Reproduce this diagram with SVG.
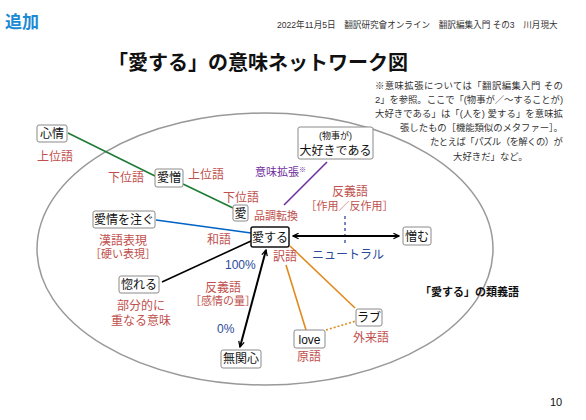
<svg xmlns="http://www.w3.org/2000/svg" width="586" height="420" viewBox="0 0 586 420">
<defs>
<style>
text{font-family:"Liberation Sans","Noto Sans CJK JP",sans-serif}
.box{fill:#fff;stroke:#8a8a8a;stroke-width:1}
.nt{font-size:12px;fill:#111;text-anchor:middle}
.lb{font-size:12px;fill:#c0504d}
.lbs{font-size:11px;fill:#c0504d}
.bl{font-size:12px;fill:#2b4a9a}
.note{font-size:9.4px;fill:#333}
</style>
<marker id="ah" viewBox="0 0 10 10" refX="9" refY="5" markerWidth="7" markerHeight="7" orient="auto-start-reverse" markerUnits="userSpaceOnUse">
<path d="M1,1 L9,5 L1,9" fill="none" stroke="#000" stroke-width="1.8"/>
</marker>
</defs>
<rect width="586" height="420" fill="#fff"/>
<text x="5" y="28" font-size="17" font-weight="bold" fill="#1a8ad4">追加</text>
<text x="277" y="28" font-size="8.6" fill="#333">2022年11月5日　翻訳研究會オンライン　翻訳編集入門 その3　川月現大</text>
<text x="258" y="70" font-size="20" font-weight="bold" fill="#111" text-anchor="middle">「愛する」の意味ネットワーク図</text>
<g id="note">
<text class="note" x="375" y="89" textLength="188" lengthAdjust="spacing">※意味拡張については「翻訳編集入門 その</text>
<text class="note" x="375" y="103" textLength="188" lengthAdjust="spacing">2」を参照。ここで「(物事が／〜することが)</text>
<text class="note" x="375" y="117" textLength="188" lengthAdjust="spacing">大好きである」は「(人を) 愛する」を意味拡</text>
<text class="note" x="400" y="131" textLength="163" lengthAdjust="spacing">張したもの［機能類似のメタファー］。</text>
<text class="note" x="430" y="145" textLength="133" lengthAdjust="spacing">たとえば「パズル（を解くの）が</text>
<text class="note" x="453" y="160">大好きだ」など。</text>
</g>
<ellipse cx="265" cy="249" rx="228" ry="136" fill="none" stroke="#999" stroke-width="1.5"/>
<g id="connectors" fill="none">
<line x1="68" y1="133" x2="155" y2="176" stroke="#1e7b34" stroke-width="1.6"/>
<line x1="183" y1="184" x2="233" y2="208" stroke="#1e7b34" stroke-width="1.6"/>
<line x1="327" y1="162" x2="284" y2="205" stroke="#7030a0" stroke-width="1.6"/>
<line x1="156" y1="220" x2="251" y2="233" stroke="#0062c4" stroke-width="1.6"/>
<line x1="162" y1="282" x2="251" y2="241" stroke="#000" stroke-width="1.6"/>
<line x1="345" y1="216" x2="345" y2="246" stroke="#2b4a9a" stroke-width="1.3" stroke-dasharray="3,3"/>
<line x1="293" y1="236" x2="399" y2="236" stroke="#000" stroke-width="2" marker-start="url(#ah)" marker-end="url(#ah)"/>
<line x1="266" y1="250" x2="240" y2="347" stroke="#000" stroke-width="2" marker-start="url(#ah)" marker-end="url(#ah)"/>
<line x1="286" y1="265" x2="306" y2="330" stroke="#e08a1e" stroke-width="1.6"/>
<line x1="290" y1="246" x2="355" y2="308" stroke="#e08a1e" stroke-width="1.6"/>
<line x1="326" y1="330" x2="356" y2="321" stroke="#e08a1e" stroke-width="1.6" stroke-dasharray="2,2"/>
</g>
<g id="n-shinjo"><rect class="box" x="37" y="125" width="30" height="17" rx="2"/><text class="nt" x="52" y="138">心情</text></g>
<text class="lb" x="37" y="161">上位語</text>
<g id="n-aizo"><rect class="box" x="155" y="169" width="28" height="18" rx="2"/><text class="nt" x="169" y="182">愛憎</text></g>
<text class="lb" x="108" y="182">下位語</text>
<text class="lb" x="188" y="179">上位語</text>
<text class="lb" x="223" y="202">下位語</text>
<g id="n-ai"><rect class="box" x="233" y="205" width="15" height="16" rx="2"/><text class="nt" x="240.5" y="217.5">愛</text></g>
<text class="lbs" x="254" y="220">品調転換</text>
<g id="n-daisuki"><rect class="box" x="298" y="127" width="75" height="32" rx="2"/><text x="335.5" y="138.5" font-size="9" fill="#111" text-anchor="middle">(物事が)</text><text class="nt" x="335.5" y="155">大好きである</text></g>
<text x="255" y="176" font-size="11" fill="#7030a0">意味拡張<tspan font-size="7" dy="-4">※</tspan></text>
<g id="n-aisuru"><rect x="251" y="227" width="38" height="20" rx="2" fill="#fff" stroke="#111" stroke-width="1.5"/><text class="nt" x="270" y="241.5">愛する</text></g>
<text class="lb" x="207" y="244">和語</text>
<text class="lb" x="350" y="196" text-anchor="middle">反義語<tspan class="lbs" x="349.5" dy="14">［作用／反作用］</tspan></text>
<text class="bl" x="312" y="259">ニュートラル</text>
<g id="n-nikumu"><rect class="box" x="403" y="227" width="28" height="18" rx="2"/><text class="nt" x="417" y="240.5">憎む</text></g>
<text x="420" y="296" font-size="11" font-weight="bold" fill="#111">「愛する」の類義語</text>
<g id="n-aijo"><rect class="box" x="93" y="211" width="62" height="17" rx="2"/><text class="nt" x="124" y="224">愛情を注ぐ</text></g>
<text class="lb" x="123" y="245" text-anchor="middle">漢語表現<tspan class="lbs" x="123" dy="13">［硬い表現］</tspan></text>
<g id="n-horeru"><rect class="box" x="119" y="276" width="40" height="17" rx="2"/><text class="nt" x="139" y="289">惚れる</text></g>
<text class="lb" x="141" y="310" text-anchor="middle">部分的に<tspan x="141" dy="15">重なる意味</tspan></text>
<text class="bl" x="225" y="269">100%</text>
<text class="lb" x="223" y="292" text-anchor="middle">反義語<tspan class="lbs" x="223" dy="13">［感情の量］</tspan></text>
<text class="bl" x="217" y="333">0%</text>
<g id="n-mukanshin"><rect class="box" x="221" y="350" width="40" height="18" rx="2"/><text class="nt" x="241" y="363">無関心</text></g>
<text class="lb" x="273" y="261">訳語</text>
<g id="n-love"><rect class="box" x="294" y="330" width="31" height="18" rx="2"/><text class="nt" x="309.5" y="343.5">love</text></g>
<text class="lb" x="297" y="361">原語</text>
<g id="n-rabu"><rect class="box" x="356" y="309" width="26" height="17" rx="2"/><text class="nt" x="369" y="322">ラブ</text></g>
<text class="lb" x="353" y="342">外来語</text>
<text x="550" y="406" font-size="11" fill="#111">10</text>
</svg>
